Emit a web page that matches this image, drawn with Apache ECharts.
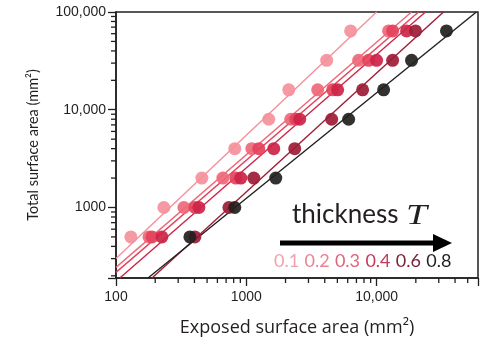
<!DOCTYPE html>
<html>
<head>
<meta charset="utf-8">
<script src="https://cdn.jsdelivr.net/npm/echarts@6/dist/echarts.min.js"></script>
<style>
  html, body { margin: 0; padding: 0; background: #fff; }
  #chart { width: 486px; height: 342px; }
</style>
</head>
<body>
<div id="chart"></div>
<script>
// total surface area levels (y), shared by every thickness
const totalArea = [500, 1000, 2000, 4000, 8000, 16000, 32000, 64000];

// exposed surface area (x) per thickness
const exposedT01 = [130, 233, 456, 816, 1487, 2117, 4140, 6320];
const exposedT02 = [179, 332, 661, 1102, 2193, 3532, 7280, 12360];
const exposedT03 = [189, 403, 831, 1247, 2395, 4600, 8680, 13270];
const exposedT04 = [225, 433, 908, 1625, 2570, 5026, 10000, 16980];
const exposedT06 = [403, 735, 1141, 2353, 4520, 7810, 13270, 19900];
const exposedT08 = [369, 816, 1683, null, 6100, 11320, 18540, 34370];

// fitted lines, two end points each
const fitT01 = [[100, 300], [10000, 100000]];
const fitT02 = [[100, 244], [18540, 100000]];
const fitT03 = [[100, 217], [20990, 100000]];
const fitT04 = [[107, 190], [23700, 100000]];
const fitT06 = [[189, 190], [32600, 100000]];
const fitT08 = [[176, 190], [58300, 100000]];

const thicknessLabels = ['0.1', '0.2', '0.3', '0.4', '0.6', '0.8'];
const markerColors = ['#f4909b', '#ee6879', '#e4425b', '#cc2446', '#9c1c36', '#231f20'];
const labelColors = ['#f2a2ac', '#ec8391', '#e0647a', '#c43a58', '#7c2239', '#231f20'];

const minorX = [200, 300, 400, 500, 600, 700, 800, 900,
  2000, 3000, 4000, 5000, 6000, 7000, 8000, 9000,
  20000, 30000, 40000, 50000];
const minorY = [200, 300, 400, 500, 600, 700, 800, 900,
  2000, 3000, 4000, 5000, 6000, 7000, 8000, 9000,
  20000, 30000, 40000, 50000, 60000, 70000, 80000, 90000];

const X_MIN = 100, X_MAX = 60000, Y_MIN = 190, Y_MAX = 100000;
const INK = '#231f20';

const exposedAll = [exposedT01, exposedT02, exposedT03, exposedT04, exposedT06, exposedT08];
const fitAll = [fitT01, fitT02, fitT03, fitT04, fitT06, fitT08];

function fmt(v) {
  const e = Math.log10(v);
  if (Math.abs(e - Math.round(e)) > 1e-6) return '';
  const s = String(Math.round(v));
  return v >= 10000 ? s.replace(/\B(?=(\d{3})+(?!\d))/g, ',') : s;
}

const series = [];
exposedAll.forEach((xs, i) => {
  series.push({
    name: 'fit ' + thicknessLabels[i],
    type: 'line',
    data: fitAll[i],
    symbol: 'none',
    silent: true,
    z: 1,
    lineStyle: { color: markerColors[i], width: 1.4 }
  });
});
exposedAll.forEach((xs, i) => {
  const pts = [];
  xs.forEach((x, k) => { if (x != null) pts.push([x, totalArea[k]]); });
  series.push({
    name: thicknessLabels[i],
    type: 'scatter',
    data: pts,
    symbol: 'circle',
    symbolSize: 13,
    z: 2,
    itemStyle: { color: markerColors[i], opacity: 0.92 }
  });
});

// minor log ticks
series.push({
  type: 'custom',
  silent: true,
  clip: false,
  z: 3,
  data: minorY.map(v => [X_MIN, v]),
  renderItem: (params, api) => {
    const p = api.coord([api.value(0), api.value(1)]);
    return { type: 'line', shape: { x1: p[0] - 5, y1: p[1], x2: p[0], y2: p[1] },
      style: { stroke: INK, lineWidth: 1.3 } };
  }
});
series.push({
  type: 'custom',
  silent: true,
  clip: false,
  z: 3,
  data: minorX.map(v => [v, Y_MIN]),
  renderItem: (params, api) => {
    const p = api.coord([api.value(0), api.value(1)]);
    return { type: 'line', shape: { x1: p[0], y1: p[1], x2: p[0], y2: p[1] + 5 },
      style: { stroke: INK, lineWidth: 1.3 } };
  }
});

const legendRich = {};
thicknessLabels.forEach((t, i) => {
  legendRich['c' + i] = { fill: labelColors[i], fontSize: 18, fontFamily: 'Lato', padding: [0, 2, 0, 0] };
});

const chart = echarts.init(document.getElementById('chart'), null, { renderer: 'canvas' });
chart.setOption({
  animation: false,
  backgroundColor: '#fff',
  grid: { left: 116, right: 8, top: 12, bottom: 59, show: true, borderColor: INK, borderWidth: 1.5 },
  xAxis: {
    type: 'log',
    logBase: 10,
    min: X_MIN,
    max: X_MAX,
    name: 'Exposed surface area (mm²)',
    nameLocation: 'middle',
    nameGap: 41,
    nameTextStyle: { fontFamily: 'Open Sans', fontSize: 18, color: INK },
    axisLine: { lineStyle: { color: INK, width: 1.5 } },
    axisTick: { inside: false, length: 8, lineStyle: { color: INK, width: 1.3 } },
    axisLabel: { formatter: fmt, fontFamily: 'Liberation Sans', fontSize: 14, color: INK, margin: 12 },
    splitLine: { show: false }
  },
  yAxis: {
    type: 'log',
    logBase: 10,
    min: Y_MIN,
    max: Y_MAX,
    name: 'Total surface area (mm²)',
    nameLocation: 'middle',
    nameGap: 75,
    nameTextStyle: { fontFamily: 'Lato', fontSize: 14.5, color: INK },
    axisLine: { lineStyle: { color: INK, width: 1.5 } },
    axisTick: { inside: false, length: 8, lineStyle: { color: INK, width: 1.3 } },
    axisLabel: { formatter: fmt, fontFamily: 'Liberation Sans', fontSize: 14, color: INK, margin: 10 },
    splitLine: { show: false }
  },
  graphic: [
    {
      type: 'text',
      left: 292,
      top: 202,
      style: { text: 'thickness', fontFamily: 'Lato', fontSize: 26, fill: INK }
    },
    {
      type: 'text',
      x: 406,
      y: 202,
      scaleX: 1.3,
      style: {
        text: 'T', fontFamily: 'Liberation Serif', fontStyle: 'italic', fontSize: 29,
        fill: INK, verticalAlign: 'top', align: 'left'
      }
    },
    {
      type: 'line',
      shape: { x1: 280, y1: 243, x2: 436, y2: 243 },
      style: { stroke: '#000', lineWidth: 5 }
    },
    {
      type: 'polygon',
      shape: { points: [[433, 234], [452, 243], [433, 252]] },
      style: { fill: '#000' }
    },
    {
      type: 'text',
      left: 274,
      top: 252,
      style: {
        text: thicknessLabels.map((t, i) => '{c' + i + '|' + t + '}').join(' '),
        rich: legendRich
      }
    }
  ],
  series
});
</script>
</body>
</html>
